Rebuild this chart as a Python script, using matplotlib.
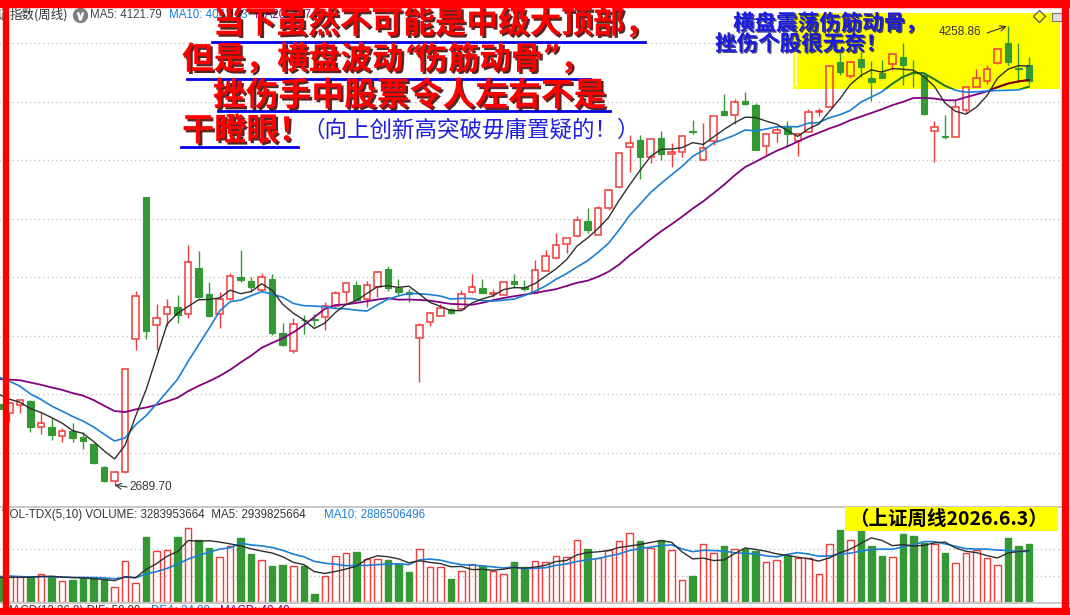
import matplotlib
matplotlib.use("Agg")
import matplotlib.pyplot as plt
import matplotlib.patheffects as pe
from matplotlib.patches import Rectangle
from matplotlib.lines import Line2D
import numpy as np
import pandas as pd

W, H = 1070, 615
CJK = ["Noto Sans CJK SC", "DejaVu Sans"]
LAT = ["Liberation Sans", "DejaVu Sans"]

RED = "#F23A3A"
GREEN = "#349934"
MA5_C = "#2E2E2E"
MA10_C = "#1A7FD6"
MA20_C = "#820082"

# 上证指数周线 2024.7 - 2026.6 ; 前面几周的收盘/成交量只用来算均线
prior_closes = [3004, 3027, 3046, 3054, 3048, 3041, 3069, 3019, 3065, 3088,
                3105, 3154, 3154, 3089, 3087, 3051, 3033, 2999, 2967]
prior_volumes = [9.0, 17.5, 16.0, 15.5, 15.0, 13.8, 13.5, 14.5, 13.6]

opens = [2966, 2936, 2963, 2978, 2888, 2889, 2857, 2875, 2856, 2831,
         2752, 2703, 2734, 3190, 3675, 3238, 3273, 3300, 3273, 3432,
         3343, 3273, 3325, 3401, 3387, 3357, 3393, 3209, 3148, 3255,
         3256, 3266, 3303, 3351, 3374, 3325, 3368, 3428, 3362, 3350,
         3193, 3249, 3269, 3292, 3293, 3351, 3365, 3344, 3340, 3386,
         3366, 3348, 3422, 3465, 3514, 3541, 3592, 3544, 3635, 3707,
         3846, 3869, 3810, 3875, 3821, 3828, 3899, 3800, 3865, 3967,
         3954, 4001, 3988, 3848, 3892, 3912, 3864, 3897, 3965, 3983,
         4134, 4087, 4144, 4079, 4099, 4127, 4151, 4102, 4091, 3901,
         3881, 3880, 3971, 4051, 4071, 4133, 4199, 4116, 4125]
highs = [2977, 2973, 2982, 2982, 2939, 2921, 2886, 2904, 2873, 2833,
         2754, 2740, 3087, 3354, 3675, 3309, 3325, 3340, 3509, 3490,
         3384, 3351, 3416, 3494, 3402, 3414, 3410, 3243, 3261, 3271,
         3273, 3317, 3353, 3380, 3387, 3387, 3420, 3439, 3394, 3359,
         3243, 3283, 3309, 3296, 3357, 3411, 3394, 3360, 3385, 3411,
         3391, 3459, 3493, 3550, 3534, 3609, 3636, 3642, 3700, 3826,
         3886, 3886, 3871, 3899, 3860, 3883, 3937, 3926, 3950, 4026,
         4008, 4031, 3994, 3888, 3914, 3934, 3892, 3975, 3977, 4120,
         4165, 4137, 4170, 4140, 4142, 4162, 4200, 4142, 4096, 3934,
         3954, 4005, 4049, 4110, 4125, 4179, 4258.86, 4199, 4151]
lows = [2933, 2905, 2938, 2873, 2865, 2844, 2839, 2839, 2814, 2761,
        2700, 2689.70, 2730, 3152, 3188, 3152, 3234, 3245, 3262, 3330,
        3265, 3228, 3323, 3385, 3351, 3351, 3203, 3166, 3140, 3205,
        3235, 3220, 3294, 3317, 3318, 3300, 3334, 3354, 3340, 3317,
        3041, 3235, 3269, 3275, 3292, 3345, 3347, 3334, 3339, 3362,
        3354, 3345, 3421, 3464, 3484, 3539, 3550, 3543, 3630, 3704,
        3761, 3734, 3791, 3800, 3776, 3810, 3889, 3800, 3852, 3952,
        3923, 3989, 3834, 3818, 3863, 3848, 3814, 3897, 3951, 3982,
        4091, 4079, 4085, 4003, 4081, 4108, 4058, 4051, 3954, 3795,
        3871, 3878, 3960, 4050, 4060, 4128, 4125, 4068, 4060]
closes = [2950, 2970, 2980, 2890, 2902, 2863, 2876, 2852, 2841, 2765,
          2704, 2736, 3087, 3336, 3218, 3261, 3300, 3272, 3452, 3331,
          3267, 3326, 3404, 3392, 3368, 3400, 3211, 3168, 3241, 3253,
          3253, 3303, 3347, 3379, 3321, 3372, 3419, 3364, 3351, 3342,
          3238, 3277, 3295, 3279, 3342, 3367, 3348, 3347, 3385, 3377,
          3360, 3424, 3473, 3510, 3534, 3594, 3560, 3635, 3697, 3826,
          3858, 3812, 3871, 3820, 3828, 3883, 3897, 3840, 3950, 3955,
          3998, 3990, 3835, 3888, 3903, 3889, 3890, 3964, 3969, 4120,
          4102, 4136, 4117, 4066, 4082, 4162, 4125, 4100, 3958, 3914,
          3880, 3983, 4049, 4079, 4110, 4178, 4136, 4111, 4070]
# 成交量, 单位: 亿(手)
volumes = [14.6, 14.0, 14.0, 14.4, 16.1, 14.6, 12.1, 12.3, 13.7, 13.5,
           12.5, 8.7, 23.5, 11.0, 37.0, 29.2, 29.8, 36.8, 42.3, 35.1,
           30.6, 25.8, 31.7, 36.3, 27.1, 24.1, 20.3, 20.9, 20.7, 20.3,
           4.4, 15.0, 26.4, 27.7, 28.3, 24.5, 24.7, 23.7, 21.8, 16.9,
           30.4, 20.1, 20.1, 12.9, 17.8, 21.4, 20.7, 17.7, 15.8, 22.6,
           19.7, 23.5, 23.0, 26.4, 25.8, 35.5, 30.0, 25.2, 29.8, 34.9,
           39.5, 34.5, 30.9, 35.1, 29.8, 12.3, 14.6, 33.2, 28.1, 31.7,
           30.4, 30.4, 29.0, 23.0, 24.1, 26.4, 24.9, 25.2, 15.8, 33.2,
           40.8, 35.5, 41.4, 31.7, 26.0, 25.8, 38.5, 37.4, 33.6, 33.2,
           27.9, 22.0, 27.7, 29.8, 24.9, 20.9, 36.3, 31.7, 32.84]

price_grid = [2800, 3000, 3200, 3400, 3600, 3800, 4000, 4200]
vol_grid = [15, 30]


def fx(px):
    return px / W


def fy(py):
    return 1 - py / H


def moving_avg(prior, vals, n):
    s = pd.Series(list(prior) + list(vals)).rolling(n, min_periods=1).mean()
    return s.to_numpy()[len(prior):]


n = len(closes)
x = np.arange(n)
up = np.array(closes) >= np.array(opens)
w = 0.62

fig = plt.figure(figsize=(W / 100, H / 100), dpi=100)
fig.patch.set_facecolor("white")

# ---- 主图 K线 ----
ax = fig.add_axes([0, fy(507), 1, 507 / H])
ax.axis("off")
ax.hlines(price_grid, 0, 102, colors="#BDBDBD", linestyles=(0, (1, 2.5)), lw=0.9, zorder=0.5)

# 黄色底框 (右上角)
box = Rectangle((fx(793), fy(89)), (1060 - 793) / W, (89 - 13) / H,
                transform=fig.transFigure, facecolor="#FFFF00", edgecolor="none", zorder=1)
ax.add_patch(box)
ax.add_line(Line2D([fx(796), fx(796)], [fy(43), fy(85)], transform=fig.transFigure,
                   color="white", lw=1.2, zorder=1.2))

for i in range(n):
    o, h, l, c = opens[i], highs[i], lows[i], closes[i]
    if up[i]:
        ax.add_patch(Rectangle((i - w / 2, o), w, max(c - o, 1.0), facecolor="none",
                               edgecolor=RED, lw=1.1, zorder=3))
        ax.vlines(i, c, h, color=RED, lw=1.0, zorder=3)
        ax.vlines(i, l, o, color=RED, lw=1.0, zorder=3)
    else:
        ax.add_patch(Rectangle((i - w / 2, c), w, max(o - c, 1.0), facecolor=GREEN,
                               edgecolor=GREEN, lw=0.8, zorder=3))
        ax.vlines(i, l, h, color=GREEN, lw=1.0, zorder=2.9)

ma5 = moving_avg(prior_closes, closes, 5)
ma10 = moving_avg(prior_closes, closes, 10)
ma20 = moving_avg(prior_closes, closes, 20)
ax.plot(x, ma20, color=MA20_C, lw=1.3, zorder=4)
ax.plot(x, ma10, color=MA10_C, lw=1.2, zorder=4)
ax.plot(x, ma5, color=MA5_C, lw=1.0, zorder=4.2)
# 黄框里均线颜色变深
l10, = ax.plot(x, ma10, color="#1E7A00", lw=1.2, zorder=4.1)
l20, = ax.plot(x, ma20, color="#7A0000", lw=1.3, zorder=4.1)
l10.set_clip_path(box)
l20.set_clip_path(box)

ax.set_xlim(0.1, 101.9)
ax.set_ylim(2615.6, 4346.8)

hi = int(np.argmax(highs))
lo = int(np.argmin(lows))
ax.annotate("", xy=(hi, highs[hi]), xytext=(987, H - 33), textcoords="figure pixels",
            arrowprops=dict(arrowstyle="->", color="#333333", lw=0.8, shrinkA=0, shrinkB=1))
fig.text(fx(939), fy(32), f"{highs[hi]:.2f}", family=LAT, fontsize=8.5, color="#333333",
         ha="left", va="center", zorder=5)
ax.annotate("", xy=(lo, lows[lo]), xytext=(127, H - 487), textcoords="figure pixels",
            arrowprops=dict(arrowstyle="->", color="#333333", lw=0.8, shrinkA=0, shrinkB=0))
fig.text(fx(129), fy(487), f"{lows[lo]:.2f}", family=LAT, fontsize=8.5, color="#333333",
         ha="left", va="center", zorder=5)

# ---- 成交量 ----
axv = fig.add_axes([0, fy(602), 1, 95 / H])
axv.axis("off")
axv.hlines(vol_grid, 0, 102, colors="#BDBDBD", linestyles=(0, (1, 2.5)), lw=0.9, zorder=0.5)
axv.bar(x, volumes, width=w, color=np.where(up, "none", GREEN),
        edgecolor=np.where(up, RED, GREEN), lw=1.0, zorder=2)
vma5 = moving_avg(prior_volumes, volumes, 5)
vma10 = moving_avg(prior_volumes, volumes, 10)
axv.plot(x, vma10, color=MA10_C, lw=1.2, zorder=3)
axv.plot(x, vma5, color=MA5_C, lw=1.0, zorder=3.1)
axv.set_xlim(0.1, 101.9)
axv.set_ylim(0, 54.1)

# 分隔线
for yy in (507, 602.5):
    fig.add_artist(Line2D([0, 1], [fy(yy), fy(yy)], transform=fig.transFigure,
                          color="#BEBEBE", lw=1.2, zorder=2))

# ---- 标题栏文字 ----
fig.text(fx(-4), fy(15), "证", family=CJK, fontsize=9, color="#333333", ha="left", va="center", zorder=5)
fig.text(fx(10), fy(15), "指数(周线)", family=CJK, fontsize=9, color="#333333", ha="left", va="center", zorder=5)
fig.add_artist(Line2D([fx(80)], [fy(15)], marker="o", ms=10, color="#7E7E7E",
                      transform=fig.transFigure, zorder=5))
fig.add_artist(Line2D([fx(80)], [fy(15.5)], marker="$\\vee$", ms=5, color="white",
                      transform=fig.transFigure, zorder=5.1))
fig.text(fx(90), fy(15), "MA5: 4121.79", family=LAT, fontsize=8.3, color="#444444", ha="left", va="center", zorder=5)
fig.text(fx(169), fy(15), "MA10: 4061.03", family=LAT, fontsize=8.3, color=MA10_C, ha="left", va="center", zorder=5)
fig.text(fx(255), fy(15), "MA20: 4074.52", family=LAT, fontsize=8.3, color=MA20_C, ha="left", va="center", zorder=5)

fig.text(fx(2.5), fy(515), "VOL-TDX(5,10) VOLUME: 3283953664  MA5: 2939825664", family=LAT,
         fontsize=8.3, color="#333333", ha="left", va="center", zorder=5)
fig.text(fx(324), fy(515), "MA10: 2886506496", family=LAT, fontsize=8.3, color=MA10_C,
         ha="left", va="center", zorder=5)
fig.text(fx(3), fy(611), "MACD(12,26,9) DIF: 59.99", family=LAT, fontsize=8.3, color="#333333",
         ha="left", va="center", zorder=5)
fig.text(fx(151), fy(611), "DEA: 34.98", family=LAT, fontsize=8.3, color=MA10_C, ha="left", va="center", zorder=5)
fig.text(fx(220), fy(611), "MACD: 40.40", family=LAT, fontsize=8.3, color=MA20_C, ha="left", va="center", zorder=5)

# 右上角小图标
fig.add_artist(Line2D([fx(1039)], [fy(16)], marker="D", ms=6, mfc="none", mec="#555555", mew=0.9,
                      transform=fig.transFigure, zorder=5))
fig.add_artist(Rectangle((fx(1052), fy(21)), 10 / W, 8 / H, transform=fig.transFigure,
                         facecolor="#DDDDDD", edgecolor="#777777", lw=0.8, zorder=5))

# ---- 红色大字 ----
red_fx = [pe.withSimplePatchShadow(offset=(1.6, -1.6), shadow_rgbFace="#3A0000", alpha=0.85)]
red_pieces = [("当下虽然不可能是中级大顶部，", 213, 24, 22.8, CJK),
              ("但是，横盘波动", 182, 60, 22.8, CJK),
              ("\u201c", 405, 58, 22, ["DejaVu Serif"]),
              ("伤筋动骨", 416, 60, 22.8, CJK),
              ("\u201d", 543, 58, 22, ["DejaVu Serif"]),
              ("，", 560, 60, 22.8, CJK),
              ("挫伤手中股票令人左右不是", 213, 96, 23.6, CJK),
              ("干瞪眼！", 182, 131, 23.2, CJK)]
for s, px, py, fs, fam in red_pieces:
    fig.text(fx(px), fy(py), s, family=fam, fontsize=fs, fontweight="bold", color="#FF0000",
             ha="left", va="center", path_effects=red_fx, zorder=10)
underlines = [(212, 645, 42), (187, 590, 79), (218, 610, 111), (181, 298, 147)]
for x0, x1, yy in underlines:
    fig.add_artist(Line2D([fx(x0), fx(x1)], [fy(yy), fy(yy)], transform=fig.transFigure,
                          color="#0000E6", lw=2.0, zorder=10))

blue_fx = [pe.withSimplePatchShadow(offset=(1.0, -1.0), shadow_rgbFace="#00004A", alpha=0.7)]
fig.text(fx(302), fy(130), "（向上创新高突破毋庸置疑的！）", family=CJK, fontsize=16.2,
         color="#1F1FE0", ha="left", va="center", zorder=10)
fig.text(fx(733), fy(23), "横盘震荡伤筋动骨，", family=CJK, fontsize=15.5, fontweight="bold",
         color="#1A1AE6", ha="left", va="center", path_effects=blue_fx, zorder=10)
fig.text(fx(715), fy(44), "挫伤个股很无奈！", family=CJK, fontsize=15.5, fontweight="bold",
         color="#1A1AE6", ha="left", va="center", path_effects=blue_fx, zorder=10)

# 成交量区的黄色标签
fig.add_artist(Rectangle((fx(845), fy(531)), (1058 - 845) / W, 24 / H, transform=fig.transFigure,
                         facecolor="#FFFF00", edgecolor="none", zorder=9))
fig.text(fx(849), fy(519.5), "（上证周线2026.6.3）", family=CJK, fontsize=14, fontweight="bold",
         color="black", ha="left", va="center", zorder=10)

# ---- 红色外框 ----
for x0, y0, x1, y1 in [(0, 0, W, 6.7), (2.7, 0, 8.3, H), (1061.7, 0, 1068.3, H), (0, 608, W, H)]:
    fig.add_artist(Rectangle((fx(x0), fy(y1)), (x1 - x0) / W, (y1 - y0) / H,
                             transform=fig.transFigure, color="#FF0000", zorder=100))

fig.savefig("out.png", dpi=100, facecolor="white")
